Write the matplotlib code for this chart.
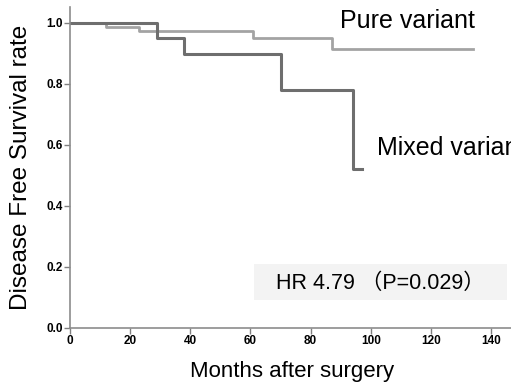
import matplotlib
matplotlib.use("Agg")
import matplotlib.pyplot as plt
from matplotlib.patches import Rectangle

plt.rcParams['font.family'] = ['Liberation Sans', 'DejaVu Sans']

# Kaplan-Meier step data (months, survival)
pure_t = [0, 12, 23, 61, 87, 134]
pure_s = [1.0, 0.987, 0.973, 0.949, 0.913, 0.913]
mixed_t = [0, 29, 38, 70, 94, 97]
mixed_s = [1.0, 0.95, 0.897, 0.78, 0.52, 0.52]

x_ticks = [0, 20, 40, 60, 80, 100, 120, 140]
y_ticks = [0.0, 0.2, 0.4, 0.6, 0.8, 1.0]

W, H = 511, 388
fig = plt.figure(figsize=(W / 100, H / 100), dpi=100)
ax = fig.add_axes([70 / W, 1 - 328 / H, (W - 70) / W, (328 - 7) / H])

ax.step(pure_t, pure_s, where='post', color='#a3a3a3', lw=2.0)
ax.step(mixed_t, mixed_s, where='post', color='#6e6e6e', lw=2.2)

ax.set_xlim(0, (W - 70) / ((491 - 70) / 140))
ax.set_ylim(0, (328 - 7) / (328 - 22.7))
ax.set_xticks(x_ticks)
ax.set_yticks(y_ticks)
ax.set_xticklabels([str(v) for v in x_ticks], fontweight='bold', fontsize=8.5)
ax.set_yticklabels([f"{v:.1f}" for v in y_ticks], fontweight='bold', fontsize=8.5)
ax.tick_params(length=4, width=1, color='#808080', pad=1)
for side in ['top', 'right']:
    ax.spines[side].set_visible(False)
for side in ['left', 'bottom']:
    ax.spines[side].set_color('#8c8c8c')
    ax.spines[side].set_linewidth(1.2)

fig.text(292 / W, 1 - 372 / H, 'Months after surgery', fontsize=16, ha='center', va='center')
fig.text(21 / W, 1 - 167 / H, 'Disease Free Survival rate', fontsize=17.5, ha='center',
         va='center', rotation=90)

fig.text(340 / W, 1 - 21 / H, 'Pure variant', fontsize=18, va='center')
fig.text(377 / W, 1 - 148 / H, 'Mixed variant', fontsize=18, va='center')

fig.patches.append(Rectangle((254 / W, 1 - 300 / H), (507 - 254) / W, 36 / H,
                             transform=fig.transFigure, facecolor='#f3f3f3',
                             edgecolor='none', zorder=0))
fig.text(380 / W, 1 - 283 / H, 'HR 4.79 （P=0.029）', fontsize=15.5, ha='center', va='center',
         family=['Liberation Sans', 'Noto Sans CJK JP'])

fig.savefig('out.png', dpi=100)
